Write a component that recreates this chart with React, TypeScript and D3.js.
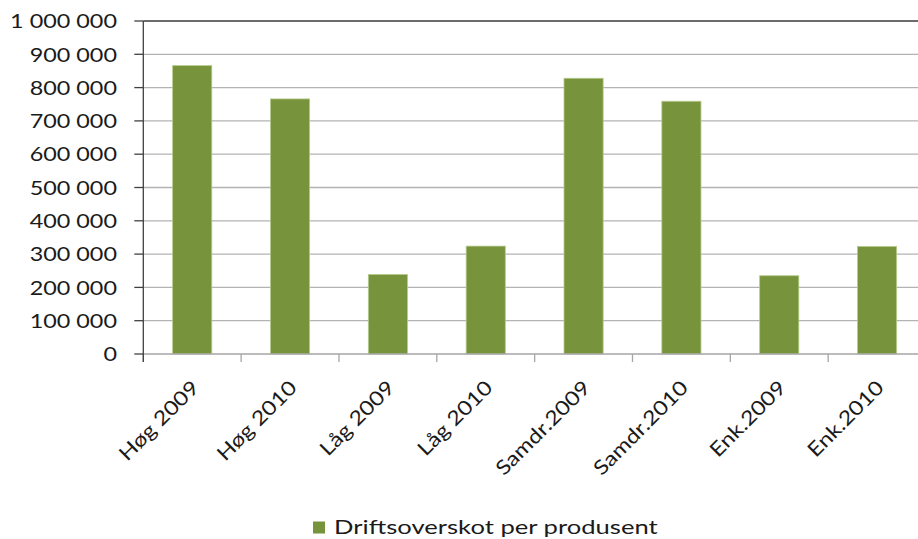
import React from "react";
import * as d3 from "d3";

const categories = ["Høg 2009", "Høg 2010", "Låg 2009", "Låg 2010", "Samdr.2009", "Samdr.2010", "Enk.2009", "Enk.2010"];
const values = [866000, 766000, 239000, 324000, 828000, 759000, 235000, 323000];
const yTicks = [0, 100000, 200000, 300000, 400000, 500000, 600000, 700000, 800000, 900000, 1000000];
const seriesName = "Driftsoverskot per produsent";

const W = 918;
const H = 539;
const FONT = "Lato, 'Open Sans', sans-serif";
const SX = 1.17;

export default function App() {
  const x = d3.scaleBand<string>().domain(categories).range([143.3, 926]).paddingInner(0).paddingOuter(0);
  const y = d3.scaleLinear().domain([0, 1000000]).range([354, 21]);
  const fmt = d3.formatLocale({ decimal: ",", thousands: " ", grouping: [3], currency: ["", ""] }).format(",d");
  const bw = x.bandwidth();
  const barW = bw * 0.4;
  const left = x.range()[0];
  const right = x.range()[1];

  return (
    <svg width={W} height={H} style={{ position: "fixed", left: 0, top: 0, background: "#fff" }} fontFamily={FONT}>
      <rect x={0} y={0} width={W} height={H} fill="#fff" />
      {/* gridlines */}
      {yTicks.slice(1, -1).map((t) => (
        <line key={"g" + t} x1={left} x2={right} y1={y(t)} y2={y(t)} stroke="#b3b3b3" strokeWidth={1.3} />
      ))}
      <line x1={left} x2={right} y1={y(1000000)} y2={y(1000000)} stroke="#3a3a3a" strokeWidth={1.3} />
      {/* bars */}
      {categories.map((c, i) => (
        <rect
          key={c}
          x={(x(c) as number) + (bw - barW) / 2}
          y={y(values[i])}
          width={barW}
          height={y(0) - y(values[i])}
          fill="#77933C"
          stroke="#b6cb8b"
          strokeWidth={0.8}
        />
      ))}
      {/* x axis */}
      <line x1={left} x2={right} y1={y(0)} y2={y(0)} stroke="#a6a6a6" strokeWidth={1.3} />
      {categories.map((c) => (
        <line key={"xt" + c} x1={x(c) as number} x2={x(c) as number} y1={y(0)} y2={y(0) + 8} stroke="#a6a6a6" strokeWidth={1.3} />
      ))}
      {/* y axis */}
      <line x1={left} x2={left} y1={y(1000000)} y2={y(0) + 8} stroke="#404040" strokeWidth={1.3} />
      {yTicks.map((t) => (
        <g key={"yt" + t}>
          <line x1={left - 9} x2={left} y1={y(t)} y2={y(t)} stroke="#404040" strokeWidth={1.3} />
          <text
            transform={`translate(117,${y(t) + 7.2}) scale(${SX},1)`}
            textAnchor="end"
            fontSize={20}
            fill="#1a1a1a"
          >
            {fmt(t)}
          </text>
        </g>
      ))}
      {/* x labels */}
      {categories.map((c) => {
        const cx = (x(c) as number) + bw / 2;
        return (
          <text
            key={"xl" + c}
            transform={`translate(${cx + 8},${389}) rotate(-45) scale(${SX},1)`}
            textAnchor="end"
            fontSize={20}
            fill="#1a1a1a"
          >
            {c}
          </text>
        );
      })}
      {/* legend */}
      <rect x={313} y={521.5} width={12} height={12} fill="#77933C" />
      <text transform={`translate(334,533.5) scale(1.28,1)`} fontSize={20} fill="#1a1a1a">
        {seriesName}
      </text>
    </svg>
  );
}
